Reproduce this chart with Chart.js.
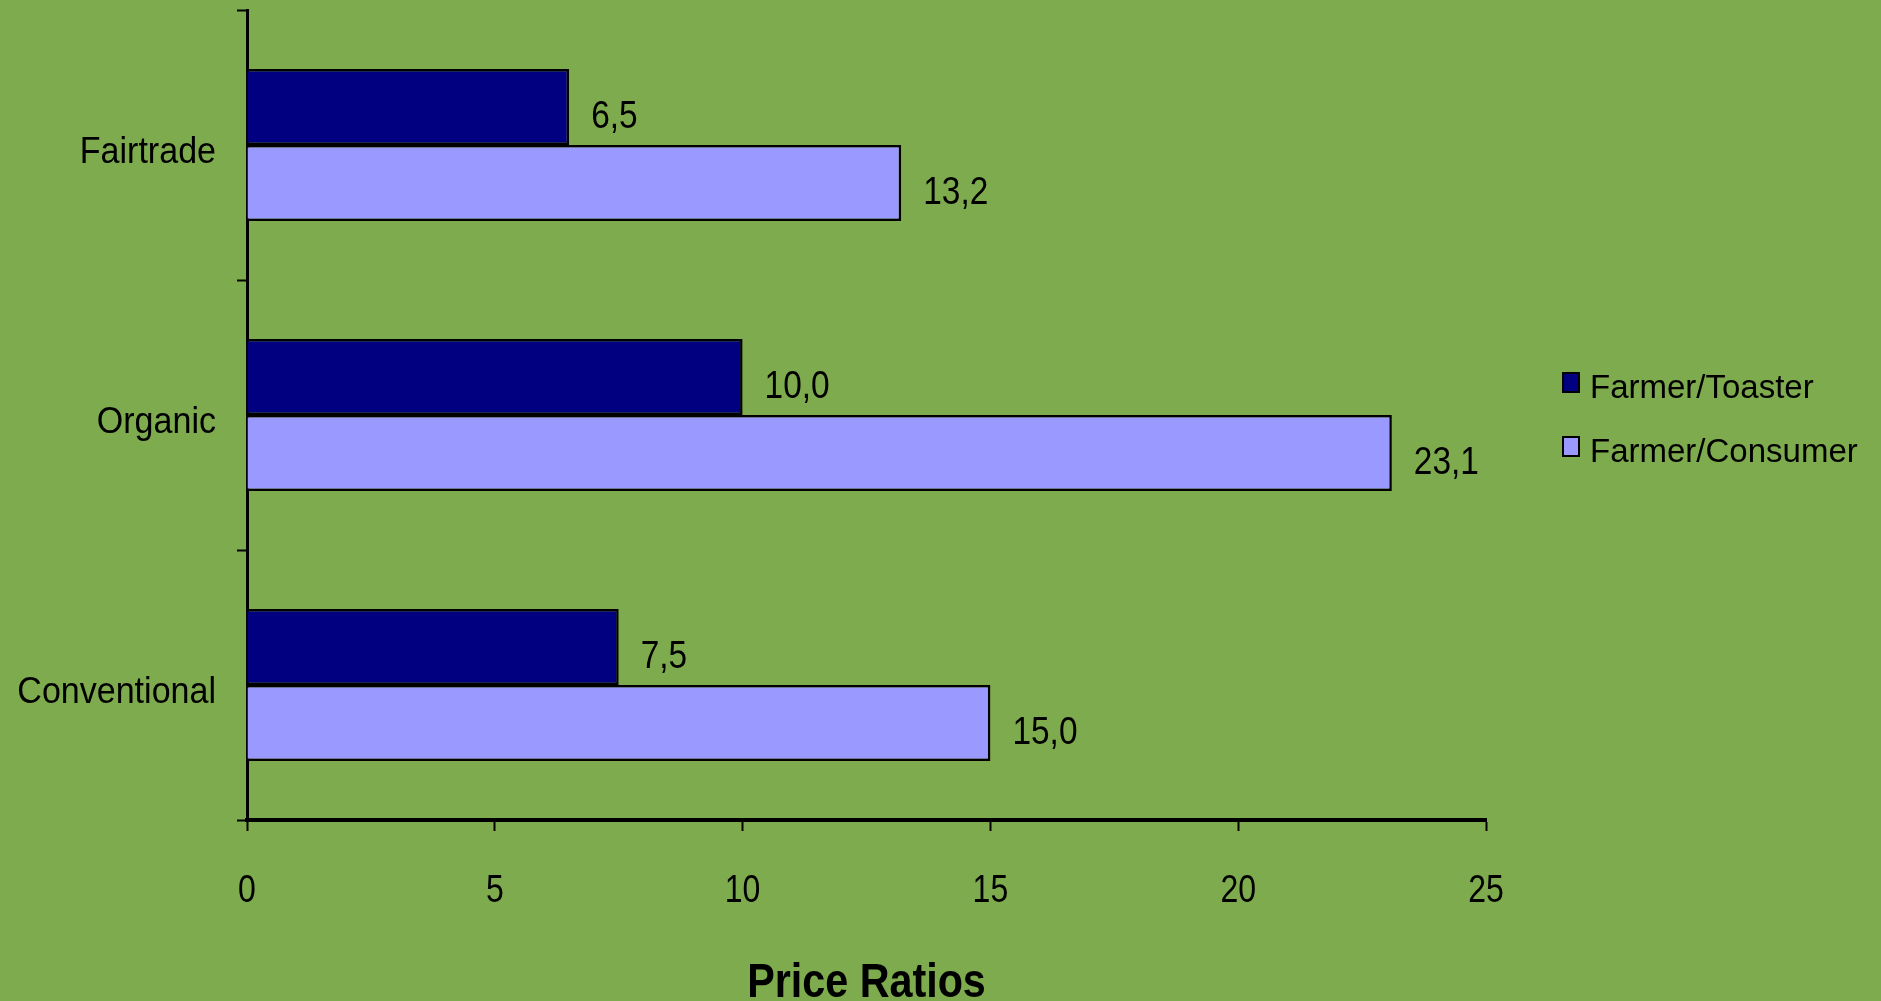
<!DOCTYPE html>
<html>
<head>
<meta charset="utf-8">
<script src="https://cdn.jsdelivr.net/npm/chart.js@4.4.1/dist/chart.umd.min.js"></script>
<style>
  html, body { margin: 0; padding: 0; background: #7EAB4E; }
  #wrap { width: 1881px; height: 1001px; position: relative; }
</style>
</head>
<body>
<div id="wrap"><canvas id="c" width="1881" height="1001"></canvas></div>
<script>
const categories = ["Fairtrade", "Organic", "Conventional"];
const seriesNames = ["Farmer/Toaster", "Farmer/Consumer"];
const farmerToaster = [6.5, 10.0, 7.5];
const farmerConsumer = [13.2, 23.1, 15.0];
const xTicks = [0, 5, 10, 15, 20, 25];
const axisTitle = "Price Ratios";

const FONT = '"Liberation Sans", Arial, sans-serif';
const colors = ["#000080", "#9999FF"];

// Draws text squeezed horizontally to imitate a narrow face
function narrowText(ctx, text, x, y, opts) {
  ctx.save();
  ctx.font = (opts.weight || '') + ' ' + opts.size + 'px ' + FONT;
  ctx.fillStyle = '#000';
  ctx.textBaseline = 'alphabetic';
  ctx.textAlign = opts.align || 'left';
  ctx.translate(x, y);
  ctx.scale(opts.sx, 1);
  ctx.fillText(text, 0, 0);
  ctx.restore();
}

// axis tick labels and axis title
const axisText = {
  id: 'axisText',
  afterDraw(chart) {
    const ctx = chart.ctx;
    const xs = chart.scales.x, ys = chart.scales.y;
    xs.ticks.forEach((t, i) => {
      const lbl = t.label != null ? String(t.label) : String(t.value);
      narrowText(ctx, lbl, xs.getPixelForTick(i), 902, { size: 39, sx: 0.82, align: 'center' });
    });
    ys.ticks.forEach((t, i) => {
      const lbl = ys.getLabelForValue(t.value);
      narrowText(ctx, lbl, 216, ys.getPixelForTick(i) + 18, { size: 37, sx: 0.92, align: 'right' });
    });
    narrowText(ctx, axisTitle, (chart.chartArea.left + chart.chartArea.right) / 2, 997,
               { size: 48, weight: 'bold', sx: 0.86, align: 'center' });
  }
};

// value labels written at the end of each bar, with a decimal comma
const valueLabels = {
  id: 'valueLabels',
  afterDatasetsDraw(chart) {
    const ctx = chart.ctx;
    chart.data.datasets.forEach((ds, di) => {
      chart.getDatasetMeta(di).data.forEach((bar, i) => {
        const txt = ds.data[i].toFixed(1).replace('.', ',');
        narrowText(ctx, txt, bar.x + 22, bar.y + 21, { size: 38, sx: 0.88 });
      });
    });
  }
};

// legend on the right with small bordered swatches
const sideLegend = {
  id: 'sideLegend',
  afterDraw(chart) {
    const ctx = chart.ctx;
    chart.data.datasets.forEach((ds, i) => {
      const top = 373 + i * 64;
      ctx.save();
      ctx.fillStyle = ds.backgroundColor;
      ctx.fillRect(1563, top, 16, 19);
      ctx.lineWidth = 2;
      ctx.strokeStyle = '#000';
      ctx.strokeRect(1563, top, 16, 19);
      ctx.restore();
      narrowText(ctx, ds.label, 1590, top + 25, { size: 33, sx: 1.0 });
    });
  }
};

new Chart(document.getElementById('c'), {
  type: 'bar',
  data: {
    labels: categories,
    datasets: [
      { label: seriesNames[0], data: farmerToaster, backgroundColor: colors[0],
        borderColor: '#000', borderWidth: 2.5 },
      { label: seriesNames[1], data: farmerConsumer, backgroundColor: colors[1],
        borderColor: '#000', borderWidth: 2.5 }
    ]
  },
  options: {
    indexAxis: 'y',
    responsive: false,
    animation: false,
    layout: { padding: { top: 10, right: 395, left: 0, bottom: 0 } },
    datasets: { bar: { categoryPercentage: 0.563, barPercentage: 1.0 } },
    plugins: {
      legend: { display: false },
      tooltip: { enabled: false }
    },
    scales: {
      x: {
        min: 0, max: 25,
        afterBuildTicks(scale) { scale.ticks = xTicks.map(v => ({ value: v })); },
        afterFit(scale) { scale.height = 1001 - 820; scale.paddingLeft = 0; scale.paddingRight = 0; },
        grid: { drawOnChartArea: false, drawTicks: true, tickLength: 11, tickWidth: 2, tickColor: '#000' },
        border: { display: true, color: '#000', width: 4 },
        ticks: { display: false }
      },
      y: {
        afterFit(scale) { scale.width = 247; scale.paddingTop = 0; scale.paddingBottom = 0; },
        grid: { drawOnChartArea: false, offset: true, tickLength: 10, tickWidth: 2, tickColor: '#000' },
        border: { display: true, color: '#000', width: 3 },
        ticks: { display: false }
      }
    }
  },
  plugins: [valueLabels, axisText, sideLegend]
});
</script>
</body>
</html>
